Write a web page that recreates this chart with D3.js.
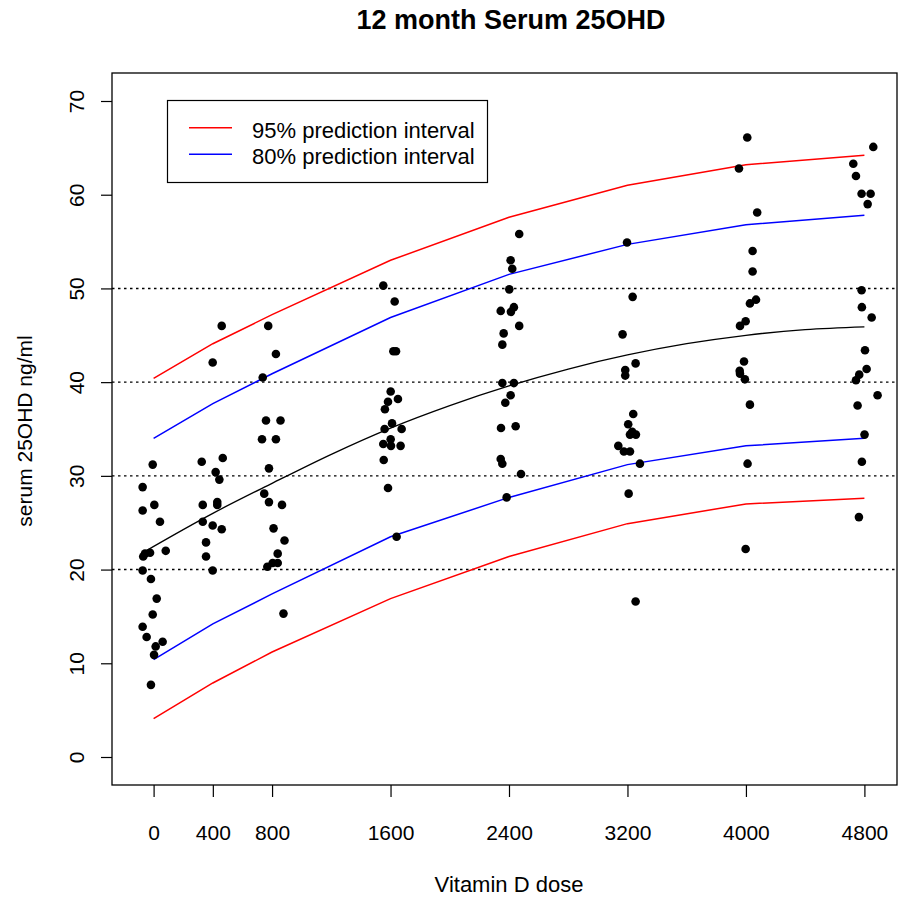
<!DOCTYPE html>
<html>
<head>
<meta charset="utf-8">
<script src="https://cdn.jsdelivr.net/npm/d3@7"></script>
<style>
  body { margin: 0; background: #fff; }
  svg text { font-family: "Liberation Sans", Arial, sans-serif; fill: #000; }
</style>
</head>
<body>
<div id="chart"></div>
<script>
// 12 month serum 25OHD vs vitamin D dose

// dose groups and axis ticks
const doseTicks = [0, 400, 800, 1600, 2400, 3200, 4000, 4800];
const levelTicks = [0, 10, 20, 30, 40, 50, 60, 70];
const refLines = [20, 30, 40, 50];

// prediction intervals, read at each dose
const pi95Upper = [40.4, 44.1, 47.2, 53.0, 57.6, 61.0, 63.2, 64.2];
const pi80Upper = [34.0, 37.7, 40.9, 46.9, 51.5, 54.7, 56.8, 57.8];
const pi80Lower = [10.4, 14.2, 17.4, 23.5, 27.7, 31.2, 33.2, 34.0];
const pi95Lower = [4.1, 7.9, 11.2, 16.9, 21.4, 24.9, 27.0, 27.6];

// fitted mean curve
const fitDose = [-74, 400, 800, 1200, 1600, 2000, 2400, 2800, 3200, 3600, 4000, 4400, 4800];
const fitLevel = [21.8, 26.0, 29.2, 32.3, 35.1, 37.5, 39.6, 41.4, 42.9, 44.1, 45.0, 45.6, 45.9];

// observations [jittered dose, serum 25OHD]
const pts0 = [[-6, 31.2], [-74, 28.8], [-74, 26.3], [5, 26.9], [43, 25.1], [82, 22.0], [-24, 21.8],
  [-58, 21.7], [-70, 21.4], [-74, 19.9], [-18, 19.0], [21, 16.9], [-6, 15.2], [-74, 13.9],
  [-47, 12.8], [61, 12.3], [14, 11.8], [3, 10.9], [-18, 7.7]];
const pts400 = [[460, 46.0], [399, 42.1], [325, 31.5], [467, 31.9], [419, 30.4], [444, 29.6],
  [332, 26.9], [430, 27.2], [430, 26.9], [332, 25.1], [399, 24.7], [460, 24.3], [354, 22.9],
  [354, 21.4], [399, 19.9]];
const pts800 = [[774, 46.0], [826, 43.0], [737, 40.5], [759, 35.9], [857, 35.9], [732, 33.9],
  [826, 33.9], [779, 30.8], [747, 28.1], [779, 27.2], [867, 26.9], [810, 24.4], [884, 23.1],
  [838, 21.7], [768, 20.3], [804, 20.7], [838, 20.7], [877, 15.3]];
const pts1600 = [[1551, 50.3], [1628, 48.6], [1619, 43.3], [1637, 43.3], [1601, 39.0], [1650, 38.2],
  [1583, 37.9], [1562, 37.1], [1610, 35.6], [1560, 35.0], [1675, 35.0], [1601, 33.9], [1551, 33.4],
  [1603, 33.2], [1668, 33.2], [1554, 31.7], [1583, 28.7], [1641, 23.5]];
const pts2400 = [[2469, 55.8], [2411, 53.0], [2422, 52.1], [2402, 49.9], [2433, 48.0], [2344, 47.6],
  [2413, 47.5], [2469, 46.0], [2364, 45.2], [2355, 44.0], [2355, 39.9], [2433, 39.9], [2411, 38.6],
  [2375, 37.8], [2346, 35.1], [2445, 35.3], [2344, 31.8], [2355, 31.3], [2481, 30.2], [2384, 27.7]];
const pts3200 = [[3197, 54.9], [3235, 49.1], [3167, 45.1], [3255, 42.0], [3185, 41.3], [3185, 40.7],
  [3239, 36.6], [3205, 35.5], [3232, 34.7], [3217, 34.4], [3257, 34.4], [3138, 33.2], [3176, 32.6],
  [3217, 32.6], [3284, 31.3], [3208, 28.1], [3255, 16.6]];
const pts4000 = [[4009, 66.1], [3953, 62.8], [4076, 58.1], [4045, 54.0], [4045, 51.8], [4068, 48.8],
  [4027, 48.4], [3998, 46.5], [3960, 46.0], [3987, 42.2], [3958, 41.2], [3960, 40.9], [3993, 40.3],
  [4027, 37.6], [4011, 31.3], [3998, 22.2]];
const pts4800 = [[4860, 65.1], [4725, 63.3], [4743, 62.0], [4781, 60.1], [4842, 60.1], [4822, 59.0],
  [4781, 49.8], [4783, 48.0], [4849, 46.9], [4804, 43.4], [4815, 41.4], [4765, 40.8], [4743, 40.2],
  [4889, 38.6], [4754, 37.5], [4801, 34.4], [4783, 31.5], [4763, 25.6]];

const legendLabels = ["95% prediction interval", "80% prediction interval"];
const legendColors = ["#ff0000", "#0000ff"];

// --- setup
const W = 898, H = 899;
const box = { left: 112, top: 73, right: 897, bottom: 785 };

const svg = d3.select("#chart").append("svg")
  .attr("width", W)
  .attr("height", H);

svg.append("rect").attr("width", W).attr("height", H).attr("fill", "#fff");

const x = d3.scaleLinear().domain([0, 4800]).range([153.6, 864.4]);
const y = d3.scaleLinear().domain([0, 70]).range([757, 101]);

// dotted reference lines
svg.append("g").selectAll("line")
  .data(refLines)
  .join("line")
  .attr("x1", box.left).attr("x2", box.right)
  .attr("y1", d => y(d)).attr("y2", d => y(d))
  .attr("stroke", "#000")
  .attr("stroke-width", 1.4)
  .attr("stroke-dasharray", "2.5,3.5");

// axes
const xAxis = svg.append("g")
  .attr("transform", "translate(0," + box.bottom + ")")
  .call(d3.axisBottom(x).tickValues(doseTicks).tickFormat(d3.format("d")).tickSize(12).tickPadding(28));
xAxis.select(".domain").remove();
xAxis.selectAll("line").attr("stroke", "#000").attr("stroke-width", 1.2);
xAxis.selectAll("text").style("font-size", "21px").attr("fill", "#000");

const yAxis = svg.append("g")
  .attr("transform", "translate(" + box.left + ",0)")
  .call(d3.axisLeft(y).tickValues(levelTicks).tickFormat(d3.format("d")).tickSize(11));
yAxis.select(".domain").remove();
yAxis.selectAll("line").attr("stroke", "#000").attr("stroke-width", 1.2);
yAxis.selectAll("text")
  .style("font-size", "21px")
  .attr("fill", "#000")
  .attr("x", null).attr("dy", null)
  .attr("text-anchor", "middle")
  .attr("transform", "translate(-28,0) rotate(-90)");

// plot box
svg.append("rect")
  .attr("x", box.left).attr("y", box.top)
  .attr("width", box.right - box.left).attr("height", box.bottom - box.top)
  .attr("fill", "none")
  .attr("stroke", "#000")
  .attr("stroke-width", 1.3);

// prediction interval lines
const line = d3.line()
  .x((d, i) => x(doseTicks[i]))
  .y(d => y(d));

const intervals = [
  { values: pi95Upper, color: "#ff0000" },
  { values: pi80Upper, color: "#0000ff" },
  { values: pi80Lower, color: "#0000ff" },
  { values: pi95Lower, color: "#ff0000" }
];

svg.append("g").selectAll("path")
  .data(intervals)
  .join("path")
  .attr("d", d => line(d.values))
  .attr("fill", "none")
  .attr("stroke", d => d.color)
  .attr("stroke-width", 1.5);

// fitted curve
const fitLine = d3.line()
  .x((d, i) => x(fitDose[i]))
  .y(d => y(d))
  .curve(d3.curveMonotoneX);

svg.append("path")
  .attr("d", fitLine(fitLevel))
  .attr("fill", "none")
  .attr("stroke", "#000")
  .attr("stroke-width", 1.3);

// points
const allPts = [].concat(pts0, pts400, pts800, pts1600, pts2400, pts3200, pts4000, pts4800);
svg.append("g").selectAll("circle")
  .data(allPts)
  .join("circle")
  .attr("cx", d => x(d[0]))
  .attr("cy", d => y(d[1]))
  .attr("r", 4.3)
  .attr("fill", "#000");

// legend
const legend = svg.append("g");
legend.append("rect")
  .attr("x", 167.5).attr("y", 100.5)
  .attr("width", 320).attr("height", 82)
  .attr("fill", "#fff")
  .attr("stroke", "#000")
  .attr("stroke-width", 1.2);

legendLabels.forEach(function(lbl, i) {
  const ly = 127.7 + i * 26.6;
  legend.append("line")
    .attr("x1", 189).attr("x2", 232)
    .attr("y1", ly).attr("y2", ly)
    .attr("stroke", legendColors[i])
    .attr("stroke-width", 1.5);
  legend.append("text")
    .attr("x", 252).attr("y", ly + 10)
    .style("font-size", "22px")
    .text(lbl);
});

// titles
svg.append("text")
  .attr("x", 511).attr("y", 29)
  .attr("text-anchor", "middle")
  .style("font-size", "27px")
  .style("font-weight", "bold")
  .text("12 month Serum 25OHD");

svg.append("text")
  .attr("x", 509).attr("y", 892)
  .attr("text-anchor", "middle")
  .style("font-size", "22px")
  .text("Vitamin D dose");

svg.append("text")
  .attr("transform", "translate(32,431) rotate(-90)")
  .attr("text-anchor", "middle")
  .style("font-size", "21px")
  .text("serum 25OHD ng/ml");
</script>
</body>
</html>
